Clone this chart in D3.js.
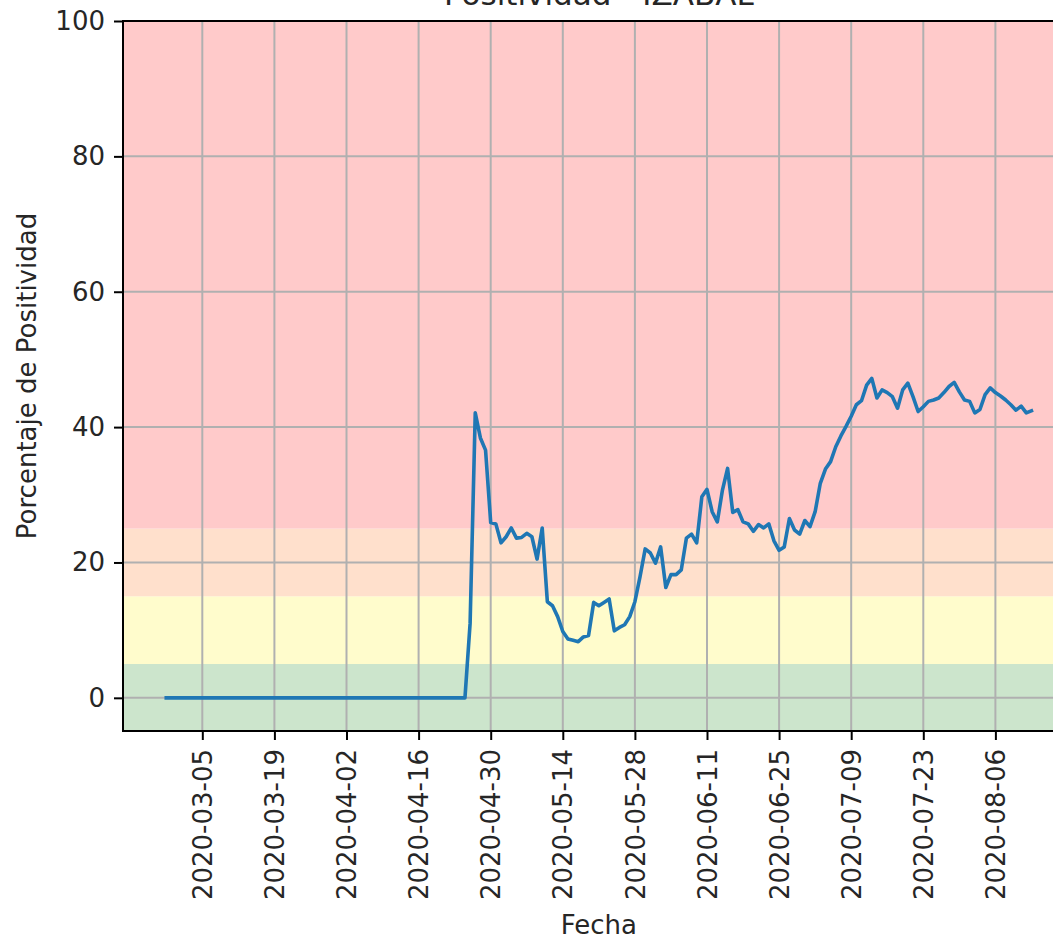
<!DOCTYPE html>
<html>
<head>
<meta charset="utf-8">
<script src="https://cdn.jsdelivr.net/npm/d3@7"></script>
<style>
  body { margin: 0; background: #fff; }
  svg { display: block; font-family: "DejaVu Sans", sans-serif; }
</style>
</head>
<body>
<div id="chart"></div>
<script>
// daily series, starting 2020-02-27
const startDate = "2020-02-27";
const positividad = [
  0, 0, 0, 0, 0, 0, 0, 0, 0, 0,
  0, 0, 0, 0, 0, 0, 0, 0, 0, 0,
  0, 0, 0, 0, 0, 0, 0, 0, 0, 0,
  0, 0, 0, 0, 0, 0, 0, 0, 0, 0,
  0, 0, 0, 0, 0, 0, 0, 0, 0, 0,
  0, 0, 0, 0, 0, 0, 0, 0, 0,
  11.0, 42.1, 38.4, 36.6, 25.9, 25.7, 22.9, 23.8, 25.1, 23.6,
  23.7, 24.3, 23.8, 20.5, 25.1, 14.2, 13.6, 12.0, 9.8, 8.7,
  8.5, 8.3, 9.0, 9.2, 14.1, 13.6, 14.1, 14.6, 9.9, 10.4,
  10.8, 12.0, 14.2, 17.9, 22.0, 21.4, 19.9, 22.3, 16.3, 18.2,
  18.2, 18.9, 23.6, 24.2, 22.9, 29.7, 30.8, 27.5, 26.0, 30.7,
  33.9, 27.4, 27.8, 26.0, 25.7, 24.6, 25.6, 25.1, 25.7, 23.2,
  21.8, 22.3, 26.5, 24.8, 24.2, 26.2, 25.3, 27.5, 31.7, 33.8,
  34.9, 37.1, 38.7, 40.1, 41.6, 43.3, 43.9, 46.2, 47.2, 44.3,
  45.5, 45.1, 44.5, 42.8, 45.5, 46.5, 44.5, 42.3, 43.0, 43.8,
  44.0, 44.3, 45.1, 46.0, 46.6, 45.2, 44.0, 43.8, 42.1, 42.6,
  44.8, 45.8, 45.1, 44.6, 44.0, 43.3, 42.5, 43.1, 42.1, 42.4
];
const xTickLabels = ["2020-03-05", "2020-03-19", "2020-04-02", "2020-04-16", "2020-04-30",
  "2020-05-14", "2020-05-28", "2020-06-11", "2020-06-25", "2020-07-09", "2020-07-23", "2020-08-06"];
const yTicks = [0, 20, 40, 60, 80, 100];
// risk bands [from, to]
const bandLimits = [[-5, 5], [5, 15], [15, 25], [25, 100]];
const bandColors = ["#cce5cc", "#fffccc", "#ffe0cc", "#ffcaca"];

const width = 1053, height = 940;
const mLeft = 123, mTop = 21, mBottom = 731;
const font = "'DejaVu Sans', sans-serif";

const parse = d3.utcParse("%Y-%m-%d");
const day0 = parse(startDate);
const data = positividad.map((v, i) => ({ date: d3.utcDay.offset(day0, i), value: v }));

const first = data[0].date, last = data[data.length - 1].date;
const span = last - first;
const x = d3.scaleUtc()
  .domain([new Date(+first - span * 0.05), new Date(+last + span * 0.05)])
  .range([mLeft, mLeft + 951.7]);
const y = d3.scaleLinear().domain([-4.9, 100]).range([mBottom, mTop]);
const xRight = x.range()[1];

const svg = d3.select("#chart").append("svg")
  .attr("width", width)
  .attr("height", height);

const plot = svg.append("g");

plot.selectAll(".band")
  .data(bandLimits)
  .enter().append("rect")
  .attr("class", "band")
  .attr("x", mLeft)
  .attr("width", xRight - mLeft)
  .attr("y", d => y(Math.min(d[1], 100)))
  .attr("height", d => y(Math.max(d[0], -4.9)) - y(Math.min(d[1], 100)))
  .attr("fill", (d, i) => bandColors[i]);

const xTicks = xTickLabels.map(parse);

// grid
plot.selectAll(".vgrid")
  .data(xTicks)
  .enter().append("line")
  .attr("x1", d => x(d)).attr("x2", d => x(d))
  .attr("y1", mTop).attr("y2", mBottom)
  .attr("stroke", "#b0b0b0").attr("stroke-width", 2);

plot.selectAll(".hgrid")
  .data(yTicks)
  .enter().append("line")
  .attr("x1", mLeft).attr("x2", xRight)
  .attr("y1", d => y(d)).attr("y2", d => y(d))
  .attr("stroke", "#b0b0b0").attr("stroke-width", 2);

const line = d3.line()
  .x(d => x(d.date))
  .y(d => y(d.value));

plot.append("path")
  .datum(data)
  .attr("fill", "none")
  .attr("stroke", "#1f77b4")
  .attr("stroke-width", 3.6)
  .attr("stroke-linejoin", "round")
  .attr("stroke-linecap", "square")
  .attr("d", line);

// axes (font set after .call, the axis writes its own font-family)
const xAxis = svg.append("g")
  .attr("transform", "translate(0," + mBottom + ")")
  .call(d3.axisBottom(x).tickValues(xTicks).tickFormat(d3.utcFormat("%Y-%m-%d")).tickSizeOuter(0).tickSize(9).tickPadding(9))
  .attr("font-family", font);
xAxis.select(".domain").remove();
xAxis.selectAll(".tick line").attr("stroke", "#000").attr("stroke-width", 2);
xAxis.selectAll("text")
  .attr("font-size", 26)
  .attr("fill", "#262626")
  .attr("text-anchor", "end")
  .attr("dy", "0.35em")
  .attr("transform", "translate(0,18) rotate(-90)")
  .attr("x", 0).attr("y", 0);

const yAxis = svg.append("g")
  .attr("transform", "translate(" + mLeft + ",0)")
  .call(d3.axisLeft(y).tickValues(yTicks).tickSizeOuter(0).tickSize(9).tickPadding(9))
  .attr("font-family", font);
yAxis.select(".domain").remove();
yAxis.selectAll(".tick line").attr("stroke", "#000").attr("stroke-width", 2);
yAxis.selectAll("text").attr("font-size", 26).attr("fill", "#262626");

// spines
const spines = [
  [mLeft, mTop, xRight, mTop],
  [mLeft, mBottom, xRight, mBottom],
  [mLeft, mTop, mLeft, mBottom]
];
svg.selectAll(".spine")
  .data(spines)
  .enter().append("line")
  .attr("x1", d => d[0]).attr("y1", d => d[1])
  .attr("x2", d => d[2]).attr("y2", d => d[3])
  .attr("stroke", "#000").attr("stroke-width", 2)
  .attr("stroke-linecap", "square");

// labels
const cx = (mLeft + xRight) / 2;
svg.append("text")
  .attr("x", cx).attr("y", 5)
  .attr("text-anchor", "middle")
  .attr("font-size", 31)
  .attr("fill", "#262626")
  .text("Positividad - IZABAL");

svg.append("text")
  .attr("x", cx).attr("y", 934)
  .attr("text-anchor", "middle")
  .attr("font-size", 26)
  .attr("fill", "#262626")
  .text("Fecha");

svg.append("text")
  .attr("transform", "translate(36," + (mTop + mBottom) / 2 + ") rotate(-90)")
  .attr("text-anchor", "middle")
  .attr("font-size", 26)
  .attr("fill", "#262626")
  .text("Porcentaje de Positividad");
</script>
</body>
</html>
